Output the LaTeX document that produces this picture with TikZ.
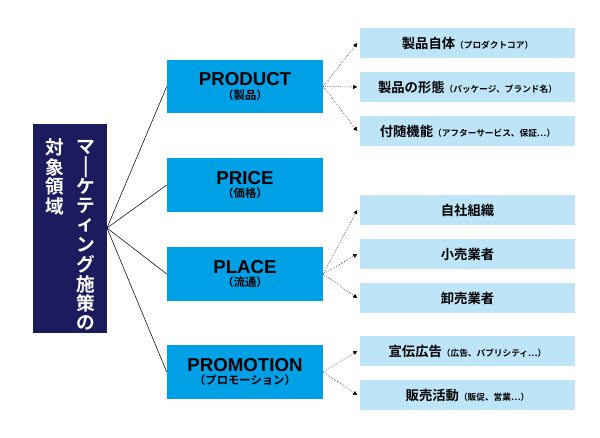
\documentclass[tikz,border=0pt]{standalone}
\usepackage{fontspec}
\setmainfont{Liberation Sans}
\newfontfamily\jp{Noto Sans CJK JP}[BoldFont={Noto Sans CJK JP Bold}]
\usetikzlibrary{arrows.meta}
\definecolor{navy}{RGB}{27,27,94}
\definecolor{midblue}{RGB}{0,160,230}
\definecolor{paleblue}{RGB}{190,228,248}
\tikzset{
  mainbox/.style={fill=midblue, minimum width=117pt, minimum height=40pt, inner sep=0pt, align=center, font=\bfseries},
  itembox/.style={fill=paleblue, minimum width=161pt, minimum height=22.5pt, inner sep=0pt, font=\jp\bfseries\fontsize{10}{12}\selectfont},
  link/.style={black, thin},
  dotlink/.style={black, densely dotted, -{Triangle[length=3pt,width=3pt]}},
  vchar/.style={white, font=\jp\bfseries\fontsize{14}{14}\selectfont, inner sep=0pt}
}
\newcommand{\sm}[1]{{\fontsize{6.5}{7}\selectfont #1}}
\begin{document}
\begin{tikzpicture}[x=0.75pt,y=-0.75pt]
  \useasboundingbox (0,0) rectangle (600,437);
  % left box
  \node (root) at (70,228.5) [fill=navy, minimum width=55.5pt, minimum height=157pt, inner sep=0pt] {};
  \foreach \c [count=\i] in {マ,|,ケ,テ,ィ,ン,グ,施,策,の}
    \node[vchar] at (86,{128+\i*19.5}) {\ifx\c|\rotatebox{90}{ー}\else\c\fi};
  \foreach \c [count=\i] in {対,象,領,域}
    \node[vchar] at (55,{128+\i*19.5}) {\c};
  \coordinate (hub) at (107,228);
  % middle boxes
  \node (product) at (245,86.5) [mainbox] {\fontsize{14}{15}\selectfont PRODUCT\\[-2pt]{\jp\fontsize{8.5}{10}\selectfont （製品）}};
  \node (price) at (245,185) [mainbox] {\fontsize{14}{15}\selectfont PRICE\\[-2pt]{\jp\fontsize{8.5}{10}\selectfont （価格）}};
  \node (place) at (245,274) [mainbox] {\fontsize{14}{15}\selectfont PLACE\\[-2pt]{\jp\fontsize{8.5}{10}\selectfont （流通）}};
  \node (promotion) at (245,372) [mainbox] {\fontsize{14}{15}\selectfont PROMOTION\\[-2pt]{\jp\fontsize{8.5}{10}\selectfont （プロモーション）}};
  \foreach \n in {product,price,place,promotion}
    \draw[link] (hub) -- (\n.west);
  % right boxes
  \node (core) at (467.5,43) [itembox] {製品自体\sm{（プロダクトコア）}};
  \node (form) at (467.5,87) [itembox] {製品の形態\sm{（パッケージ、ブランド名）}};
  \node (extra) at (467.5,131) [itembox] {付随機能\sm{（アフターサービス、保証…）}};
  \node (own) at (467.5,210) [itembox] {自社組織};
  \node (retail) at (467.5,254) [itembox] {小売業者};
  \node (whole) at (467.5,298) [itembox] {卸売業者};
  \node (ad) at (467.5,351) [itembox] {宣伝広告\sm{（広告、パブリシティ…）}};
  \node (sales) at (467.5,395) [itembox] {販売活動\sm{（販促、営業…）}};
  \foreach \n in {core,form,extra}
    \draw[dotlink] (product.east) -- ([xshift=-2pt]\n.west);
  \foreach \n in {own,retail,whole}
    \draw[dotlink] (place.east) -- ([xshift=-2pt]\n.west);
  \foreach \n in {ad,sales}
    \draw[dotlink] (promotion.east) -- ([xshift=-2pt]\n.west);
\end{tikzpicture}
\end{document}
